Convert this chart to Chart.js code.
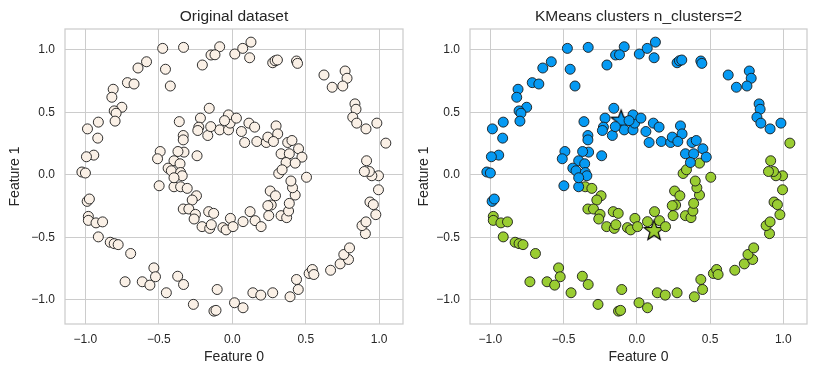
<!DOCTYPE html>
<html>
<head>
<meta charset="utf-8">
<script src="https://cdn.jsdelivr.net/npm/chart.js@4/dist/chart.umd.min.js"></script>
<style>
  html, body { margin: 0; padding: 0; background: #fff; }
  #wrap { position: relative; width: 818px; height: 375px; }
  canvas { position: absolute; top: 0; }
  #left { left: 0; }
  #right { left: 409px; }
</style>
</head>
<body>
<div id="wrap">
  <canvas id="left" width="409" height="375"></canvas>
  <canvas id="right" width="409" height="375"></canvas>
</div>
<script>
// tick values on both axes
const tickValues = [-1.0, -0.5, 0.0, 0.5, 1.0]

// cluster 0 (top half, blue)
const cluster0 = [
  [-0.474, 1.011], [-0.332, 1.019], [-0.584, 0.904], [-0.642, 0.854], [-0.455, 0.844],
  [-0.714, 0.737], [-0.669, 0.726], [-0.422, 0.710], [-0.811, 0.684], [-0.820, 0.620],
  [-0.752, 0.540], [-0.804, 0.511], [-0.791, 0.492], [-0.798, 0.429], [-0.912, 0.421],
  [-0.986, 0.367], [-0.916, 0.293], [-0.943, 0.157], [-0.993, 0.144], [-1.024, 0.022],
  [-1.000, 0.014], [-0.988, -0.213], [-0.973, -0.194], [-0.086, 1.024], [-0.145, 0.958],
  [-0.118, 0.960], [-0.204, 0.878], [0.017, 0.966], [0.071, 1.011], [0.127, 1.061],
  [0.118, 0.936], [0.275, 0.896], [0.291, 0.912], [0.307, 0.918], [0.437, 0.910],
  [0.444, 0.891], [0.624, 0.798], [0.768, 0.830], [0.781, 0.772], [0.680, 0.700],
  [0.752, 0.710], [0.835, 0.567], [0.842, 0.524], [0.820, 0.460], [0.847, 0.413],
  [0.910, 0.367], [0.984, 0.413],
  [-0.157, 0.532], [-0.361, 0.425], [-0.217, 0.453], [-0.228, 0.381], [-0.235, 0.354],
  [-0.167, 0.314], [-0.086, 0.359], [-0.026, 0.359], [-0.015, 0.413], [-0.026, 0.479],
  [-0.334, 0.314], [-0.334, 0.279], [-0.329, 0.181], [-0.370, 0.186], [-0.491, 0.186],
  [-0.509, 0.128], [-0.397, 0.112], [-0.356, 0.088], [-0.240, 0.152], [-0.437, 0.053],
  [-0.415, 0.032], [-0.352, 0.018], [-0.341, -0.008], [0.028, 0.453], [0.062, 0.346],
  [0.113, 0.413], [0.152, 0.381], [0.084, 0.258], [0.167, 0.266], [0.231, 0.258],
  [0.242, 0.301], [0.298, 0.391], [0.309, 0.327], [0.280, 0.266], [0.377, 0.258],
  [0.406, 0.274], [0.451, 0.208], [0.332, 0.168], [0.388, 0.168], [0.474, 0.141],
  [0.366, 0.098], [-0.498, -0.088], [-0.397, -0.096], [-0.397, -0.024], [-0.147, 0.385],
  [-0.053, 0.433]
]

// cluster 1 (bottom half, green)
const cluster1 = [
  [-0.352, -0.096], [-0.307, -0.109], [-0.244, -0.168], [-0.273, -0.202], [-0.334, -0.274],
  [-0.296, -0.274], [-0.251, -0.317], [-0.260, -0.354], [-0.161, -0.295], [-0.127, -0.309],
  [-0.206, -0.415], [-0.154, -0.429], [-0.143, -0.399], [-0.064, -0.423], [-0.042, -0.441],
  [-0.013, -0.349], [0.073, -0.375], [0.121, -0.295], [0.155, -0.367], [0.196, -0.415],
  [0.005, -0.415], [0.258, -0.130], [0.294, -0.168], [0.265, -0.242], [0.242, -0.247],
  [0.248, -0.327], [0.332, -0.327], [0.370, -0.343], [0.383, -0.290], [0.388, -0.229],
  [0.428, -0.162], [0.410, -0.104], [0.399, -0.050], [0.316, 0.010], [0.339, 0.040],
  [0.428, 0.093], [0.505, -0.020],
  [-0.980, -0.333], [-0.980, -0.365], [-0.928, -0.385], [-0.883, -0.377], [-0.912, -0.497],
  [-0.831, -0.540], [-0.804, -0.551], [-0.777, -0.559], [-0.692, -0.630], [-0.534, -0.745],
  [-0.523, -0.816], [-0.613, -0.856], [-0.561, -0.883], [-0.730, -0.856], [-0.449, -0.944],
  [-0.372, -0.812], [-0.332, -0.878], [-0.265, -1.037], [-0.125, -1.091], [-0.111, -1.085],
  [-0.103, -0.918], [0.015, -1.024], [0.073, -1.064], [0.140, -0.944], [0.194, -0.963],
  [0.275, -0.944], [0.393, -0.976], [0.449, -0.918], [0.437, -0.838], [0.523, -0.790],
  [0.545, -0.758], [0.555, -0.798], [0.669, -0.764], [0.734, -0.713], [0.791, -0.678],
  [0.759, -0.638], [0.798, -0.585], [0.906, -0.471], [0.883, -0.407], [0.910, -0.377],
  [0.977, -0.319], [0.937, -0.218], [0.960, -0.239], [0.995, -0.120], [0.995, -0.008],
  [0.950, -0.008], [0.933, 0.026], [0.899, 0.026], [0.914, 0.112], [1.045, 0.253]
]

// KMeans centres (stars)
const centers = [[-0.107, 0.433], [0.118, -0.449]]

const textColor = '#262626'
const gridColor = '#cccccc'
const fontFamily = '"Liberation Sans", Arial, sans-serif'

const toXY = p => ({ x: p[0], y: p[1] })

function makeStar(fill) {
  const r = 10.5, ri = 4.4, c = document.createElement('canvas')
  c.width = 26; c.height = 26
  const g = c.getContext('2d')
  g.beginPath()
  for (let i = 0; i < 10; i++) {
    const rad = i % 2 ? ri : r
    const a = -Math.PI / 2 + i * Math.PI / 5
    const px = 13 + rad * Math.cos(a), py = 13 + rad * Math.sin(a)
    i ? g.lineTo(px, py) : g.moveTo(px, py)
  }
  g.closePath()
  g.fillStyle = fill
  g.fill()
  g.lineWidth = 1.2
  g.strokeStyle = '#000'
  g.stroke()
  return c
}

// box around the plot area, like the seaborn spines
const frame = {
  id: 'frame',
  beforeDatasetsDraw(chart) {
    const { ctx, chartArea: a } = chart
    ctx.save()
    ctx.strokeStyle = gridColor
    ctx.lineWidth = 1.25
    ctx.strokeRect(a.left, a.top, a.right - a.left, a.bottom - a.top)
    ctx.restore()
  }
}

const fmt = v => v.toFixed(1).replace('-', '\u2212')

function scatterOptions(title, yWidth) {
  return {
    responsive: false,
    animation: false,
    layout: { padding: { left: 0, right: 0, top: 0, bottom: 0 } },
    plugins: {
      legend: { display: false },
      tooltip: { enabled: false },
      title: {
        display: true, text: title, color: textColor, fullSize: false,
        font: { family: fontFamily, size: 15.5, weight: 'normal' },
        padding: { top: 7, bottom: 3.4 }
      }
    },
    scales: {
      x: {
        type: 'linear', min: -1.139, max: 1.162,
        afterBuildTicks: s => { s.ticks = tickValues.map(v => ({ value: v })) },
        afterFit: s => { s.height = 51 },
        grid: { color: gridColor, lineWidth: 1, drawTicks: false },
        border: { display: false },
        ticks: { color: textColor, padding: 8, font: { family: fontFamily, size: 12 }, callback: fmt },
        title: { display: true, text: 'Feature 0', color: textColor, padding: { top: 0, bottom: 9 },
                 font: { family: fontFamily, size: 14 } }
      },
      y: {
        type: 'linear', min: -1.194, max: 1.166,
        afterBuildTicks: s => { s.ticks = tickValues.map(v => ({ value: v })) },
        afterFit: s => { s.width = yWidth },
        grid: { color: gridColor, lineWidth: 1, drawTicks: false },
        border: { display: false },
        ticks: { color: textColor, padding: 10, font: { family: fontFamily, size: 12 }, callback: fmt },
        title: { display: true, text: 'Feature 1', color: textColor, padding: { top: 6.5, bottom: 0 },
                 font: { family: fontFamily, size: 14 } }
      }
    }
  }
}

const pointBase = { pointRadius: 5, borderWidth: 0.9, borderColor: '#1a1a1a', showLine: false }

const leftOpts = scatterOptions('Original dataset', 65)
leftOpts.layout.padding.right = 6
new Chart(document.getElementById('left'), {
  type: 'scatter',
  data: {
    datasets: [{
      ...pointBase,
      data: cluster0.concat(cluster1).map(toXY),
      backgroundColor: '#faf0e6'
    }]
  },
  options: leftOpts,
  plugins: [frame]
})

const rightOpts = scatterOptions('KMeans clusters n_clusters=2', 61)
rightOpts.layout.padding.right = 8
new Chart(document.getElementById('right'), {
  type: 'scatter',
  data: {
    datasets: [
      { ...pointBase, data: cluster0.map(toXY), backgroundColor: '#069af3' },
      { ...pointBase, data: cluster1.map(toXY), backgroundColor: '#9acd32' },
      { data: [toXY(centers[0])], pointStyle: makeStar('#069af3'), pointRadius: 10 },
      { data: [toXY(centers[1])], pointStyle: makeStar('#9acd32'), pointRadius: 10 }
    ]
  },
  options: rightOpts,
  plugins: [frame]
})
</script>
</body>
</html>
